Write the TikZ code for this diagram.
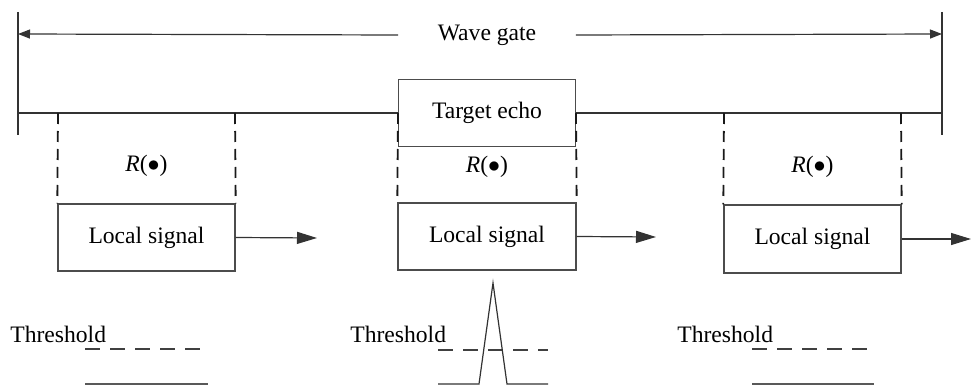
\documentclass[tikz,border=0pt]{standalone}
\usepackage{fontspec}
\setmainfont{Liberation Serif}
\usetikzlibrary{arrows.meta}
\begin{document}
\begin{tikzpicture}[x=0.5pt,y=-0.5pt,
  thin line/.style={draw=black!80,line width=0.6pt},
  boxstyle/.style={draw=black!70,line width=0.7pt,rectangle,inner sep=0pt,minimum width=88.5pt,minimum height=33.5pt,font=\fontsize{11.8}{14}\selectfont},
  txt/.style={inner sep=0pt,font=\fontsize{11.8}{14}\selectfont},
  dashv/.style={draw=black!90,line width=0.9pt,dash pattern=on 5.5pt off 3.5pt},
  dashh/.style={draw=black!75,line width=0.6pt,dash pattern=on 7.5pt off 5pt},
  bigarrow/.style={thin line,-{Triangle[length=10pt,width=6pt]}},
  gatearrow/.style={thin line,-{Triangle[length=6pt,width=4.5pt]}}]
\useasboundingbox (0,0) rectangle (971,385);
% wave gate
\coordinate (gLt) at (18,12);
\coordinate (gLb) at (18,135);
\coordinate (gRt) at (942,12);
\coordinate (gRb) at (942,135);
\coordinate (gLa) at (18,34);
\coordinate (gRa) at (942,34);
\coordinate (bL) at (18,113);
\coordinate (bR) at (942,113);
\draw[thin line] (gLt) -- (gLb);
\draw[thin line] (gRt) -- (gRb);
\node[txt,minimum width=88.5pt] (wg) at (487,35) {Wave gate};
\draw[gatearrow] (wg.west) -- (gLa);
\draw[gatearrow] (wg.east) -- (gRa);
% boxes
\node[boxstyle] (te) at (487,113) {Target echo};
\node[boxstyle] (ls1) at (146.5,237.5) {Local signal};
\node[boxstyle,minimum width=89pt] (ls2) at (487,236.5) {Local signal};
\node[boxstyle,minimum height=34pt] (ls3) at (812.5,239) {Local signal};
% base line
\draw[thin line] (bL) -- (te.west);
\draw[thin line] (te.east) -- (bR);
% dashed windows
\coordinate (d1a) at (58,113);
\coordinate (d1b) at (235,113);
\coordinate (d2a) at (398,113);
\coordinate (d2b) at (576,113);
\coordinate (d3a) at (724,113);
\coordinate (d3b) at (901,113);
\draw[dashv] (d1a) -- (ls1.north west);
\draw[dashv] (d1b) -- (ls1.north east);
\draw[dashv] (d2a) -- (ls2.north west);
\draw[dashv] (d2b) -- (ls2.north east);
\draw[dashv] (d3a) -- (ls3.north west);
\draw[dashv] (d3b) -- (ls3.north east);
\node[txt] (r1) at (146.5,166) {\textit{R}($\bullet$)};
\node[txt] (r2) at (487,167) {\textit{R}($\bullet$)};
\node[txt] (r3) at (812.5,167) {\textit{R}($\bullet$)};
% output arrows
\coordinate (o1) at (317,238);
\coordinate (o2) at (656,237);
\coordinate (o3) at (971,239);
\draw[bigarrow] (ls1.east) -- (o1);
\draw[bigarrow] (ls2.east) -- (o2);
\draw[bigarrow] (ls3.east) -- (o3);
% thresholds
\node[txt,anchor=base west] (t1) at (10,343) {Threshold};
\node[txt,anchor=base west] (t2) at (350,343) {Threshold};
\node[txt,anchor=base west] (t3) at (677,343) {Threshold};
\draw[dashh] (85,349) -- (205,349);
\draw[thin line,draw=black!65] (85,384) -- (208,384);
\draw[dashh] (438,350) -- (548,350);
\draw[thin line] (438,384) -- (479,384) -- (493,283) -- (507,384) -- (548,384);
\draw[dashh] (752,349) -- (872,349);
\draw[thin line,draw=black!65] (752,384) -- (874,384);
\end{tikzpicture}
\end{document}
